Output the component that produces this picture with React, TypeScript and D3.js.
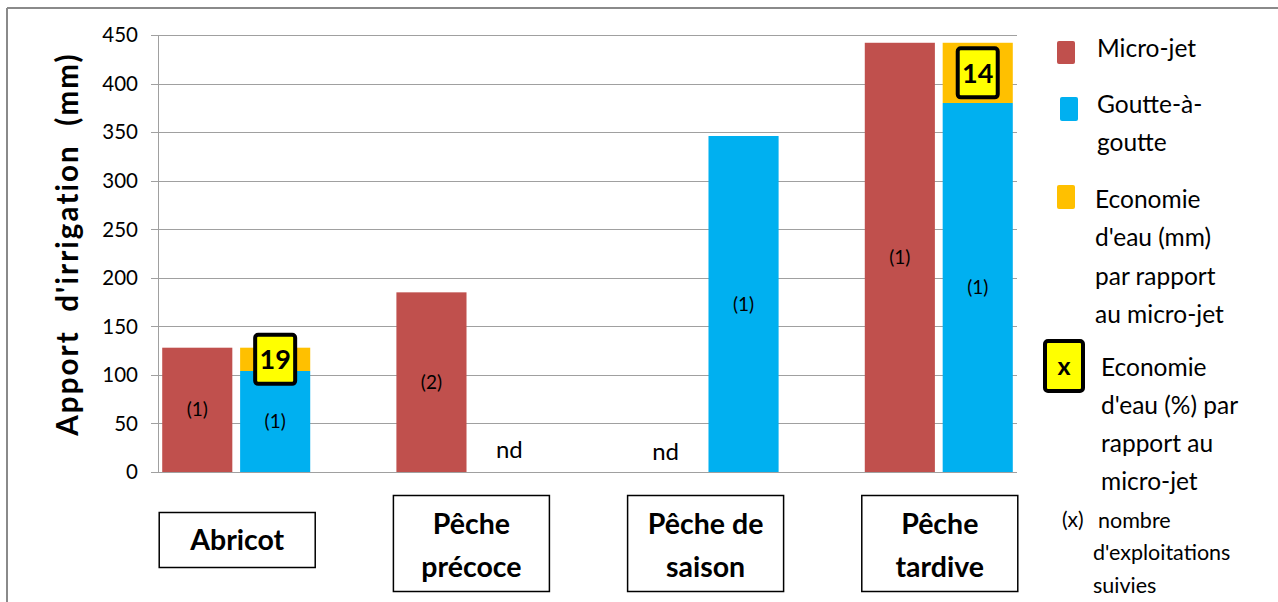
import React from "react";
import * as d3 from "d3";

const categories = ["Abricot", "Pêche précoce", "Pêche de saison", "Pêche tardive"];
const categoryLines = [["Abricot"], ["Pêche", "précoce"], ["Pêche de", "saison"], ["Pêche", "tardive"]];
const microJet: (number | null)[] = [128, 185, null, 442];
const goutte: (number | null)[] = [104, null, 346, 380];
const economie: (number | null)[] = [24, null, null, 62];
const economiePct: (number | null)[] = [19, null, null, 14];
const nbMicro: (string | null)[] = ["(1)", "(2)", null, "(1)"];
const nbGoutte: (string | null)[] = ["(1)", null, "(1)", "(1)"];
const yTicks = [0, 50, 100, 150, 200, 250, 300, 350, 400, 450];

const RED = "#C0504D";
const BLUE = "#00B0F0";
const ORANGE = "#FFC000";
const YELLOW = "#FFFF00";
const FONT = "Lato, 'Open Sans', sans-serif";

export default function App() {
  const W = 1278, H = 602;
  const x = d3.scaleBand<string>().domain(categories).range([158, 1017]).paddingInner(0.368).paddingOuter(0.018);
  const inner = d3.scaleBand<string>().domain(["micro", "goutte"]).range([0, x.bandwidth()]).paddingInner(0.1);
  const y = d3.scaleLinear().domain([0, 450]).range([472, 35]);
  const bw = inner.bandwidth();

  return (
    <svg width={W} height={H} style={{ position: "absolute", left: 0, top: 0, background: "#fff" }} fontFamily={FONT}>
      {/* frame */}
      <line x1={7} y1={8} x2={W} y2={8} stroke="#8a8a8a" strokeWidth={2} />
      <line x1={7} y1={8} x2={7} y2={H} stroke="#8a8a8a" strokeWidth={2} />

      {/* gridlines */}
      {yTicks.map((t) => (
        <g key={t}>
          <line x1={151} x2={1017} y1={Math.round(y(t)) + 0.5} y2={Math.round(y(t)) + 0.5} stroke="#a0a0a0" strokeWidth={1} />
          <text x={138} y={y(t)} dy="0.36em" textAnchor="end" fontSize={20.5} fill="#000">{t}</text>
        </g>
      ))}
      <line x1={158.5} x2={158.5} y1={y(450)} y2={y(0)} stroke="#a0a0a0" strokeWidth={1} />

      {/* y title */}
      <text transform={`translate(68,244) rotate(-90)`} textAnchor="middle" dy="0.35em" fontSize={29.5} fontWeight="bold" letterSpacing={2.1} style={{ whiteSpace: "pre" }}>
        Apport  d'irrigation  (mm)
      </text>

      {/* bars */}
      {categories.map((c, i) => {
        const gx = x(c)!;
        const mx = gx + inner("micro")!;
        const gxx = gx + inner("goutte")!;
        const m = microJet[i];
        const g = goutte[i];
        const e = economie[i];
        const p = economiePct[i];
        return (
          <g key={c}>
            {m !== null ? (
              <g>
                <rect x={mx} y={y(m)} width={bw} height={y(0) - y(m)} fill={RED} />
                {nbMicro[i] && (
                  <text x={mx + bw / 2} y={(y(m) + y(0)) / 2} dy="0.35em" textAnchor="middle" fontSize={19}>{nbMicro[i]}</text>
                )}
              </g>
            ) : (
              <text x={mx + bw / 2} y={452} dy="0.35em" textAnchor="middle" fontSize={24}>nd</text>
            )}
            {g !== null ? (
              <g>
                <rect x={gxx} y={y(g)} width={bw} height={y(0) - y(g)} fill={BLUE} />
                {nbGoutte[i] && (
                  <text x={gxx + bw / 2} y={(y(g) + y(0)) / 2} dy="0.35em" textAnchor="middle" fontSize={19}>{nbGoutte[i]}</text>
                )}
                {e !== null && (
                  <g>
                    <rect x={gxx} y={y(g + e)} width={bw} height={y(g) - y(g + e)} fill={ORANGE} />
                    {p !== null && (
                      <g>
                        <rect x={gxx + bw / 2 - 20} y={(y(g) + y(g + e)) / 2 - 24.5} width={40} height={49} rx={3} fill={YELLOW} stroke="#000" strokeWidth={4} />
                        <text x={gxx + bw / 2} y={(y(g) + y(g + e)) / 2} dy="0.36em" textAnchor="middle" fontSize={27} fontWeight="bold">{p}</text>
                      </g>
                    )}
                  </g>
                )}
              </g>
            ) : (
              <text x={gxx + bw / 2} y={450} dy="0.35em" textAnchor="middle" fontSize={24}>nd</text>
            )}
          </g>
        );
      })}

      {/* category boxes */}
      {categories.map((c, i) => {
        const cx = x(c)! + x.bandwidth() / 2 + 1;
        const lines = categoryLines[i];
        const single = lines.length === 1;
        const top = single ? 512 : 495;
        const h = single ? 55 : 96;
        return (
          <g key={"lab" + c}>
            <rect x={cx - 78} y={top + 0.5} width={156} height={h} fill="#fff" stroke="#000" strokeWidth={1.5} />
            {lines.map((l, j) => (
              <text key={j} x={cx} y={single ? top + 28 : top + 29 + j * 43} dy="0.35em" textAnchor="middle" fontSize={28.5} fontWeight="bold">{l}</text>
            ))}
          </g>
        );
      })}

      {/* legend */}
      <rect x={1057} y={41} width={18} height={23} rx={2} fill={RED} />
      <text x={1097} y={48} dy="0.35em" fontSize={24.5}>Micro-jet</text>

      <rect x={1060} y={97} width={18} height={24} rx={2} fill={BLUE} />
      <text x={1097} y={104} dy="0.35em" fontSize={24.5}>Goutte-à-</text>
      <text x={1097} y={142} dy="0.35em" fontSize={24.5}>goutte</text>

      <rect x={1057} y={185} width={18} height={24} rx={2} fill={ORANGE} />
      {["Economie", "d'eau (mm)", "par rapport", "au micro-jet"].map((t, j) => (
        <text key={t} x={1095} y={199 + j * 38.5} dy="0.35em" fontSize={24.5}>{t}</text>
      ))}

      <rect x={1045} y={341} width={38} height={50} rx={3} fill={YELLOW} stroke="#000" strokeWidth={4} />
      <text x={1064} y={366} dy="0.35em" textAnchor="middle" fontSize={25} fontWeight="bold">x</text>
      {["Economie", "d'eau (%) par", "rapport au", "micro-jet"].map((t, j) => (
        <text key={t} x={1101} y={367 + j * 38.3} dy="0.35em" fontSize={24.5}>{t}</text>
      ))}

      <text x={1062} y={520} dy="0.35em" fontSize={21}>(x)</text>
      <text x={1098} y={520} dy="0.35em" fontSize={21.5}>nombre</text>
      <text x={1093} y={552} dy="0.35em" fontSize={21.5}>d'exploitations</text>
      <text x={1093} y={585} dy="0.35em" fontSize={21.5}>suivies</text>
    </svg>
  );
}
